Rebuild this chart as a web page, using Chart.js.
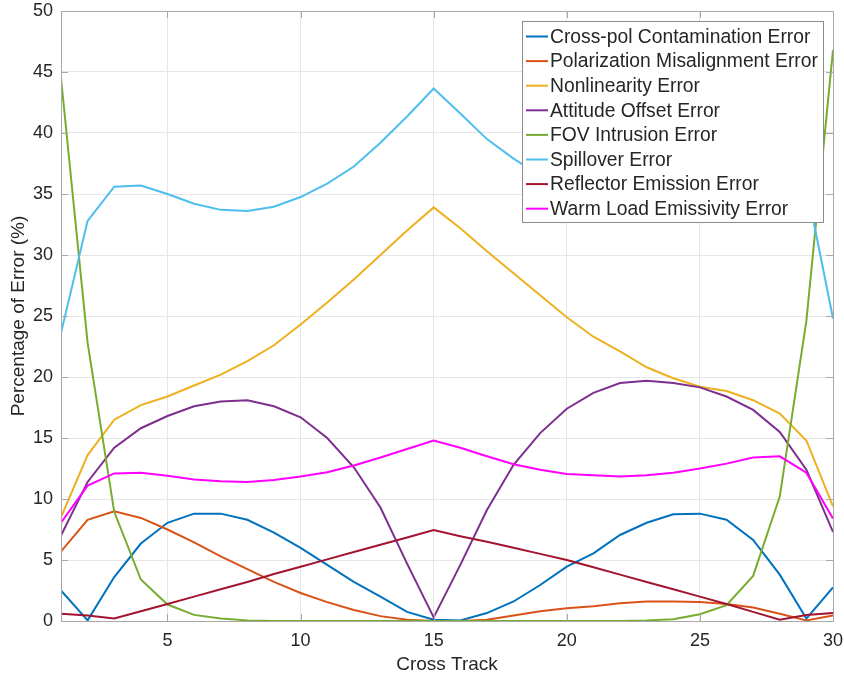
<!DOCTYPE html>
<html>
<head>
<meta charset="utf-8">
<script src="https://cdn.jsdelivr.net/npm/chart.js@4.4.1/dist/chart.umd.min.js"></script>
<style>
html,body{margin:0;padding:0;background:#fff;}
canvas{display:block;}
</style>
</head>
<body>
<canvas id="c" width="844" height="675"></canvas>
<script>
const crossTrack = [1,2,3,4,5,6,7,8,9,10,11,12,13,14,15,16,17,18,19,20,21,22,23,24,25,26,27,28,29,30];
const xTickValues = [5,10,15,20,25,30];
const yTickValues = [0,5,10,15,20,25,30,35,40,45,50];

const seriesNames = [
  'Cross-pol Contamination Error',
  'Polarization Misalignment Error',
  'Nonlinearity Error',
  'Attitude Offset Error',
  'FOV Intrusion Error',
  'Spillover Error',
  'Reflector Emission Error',
  'Warm Load Emissivity Error'
];
const seriesColors = ['#0072BD','#D95319','#EDB120','#7E2F8E','#77AC30','#4DBEEE','#A2142F','#FF00FF'];

const crossPol   = [2.5,0.05,3.6,6.35,8.05,8.8,8.8,8.3,7.25,6.0,4.6,3.2,2.0,0.75,0.1,0.05,0.65,1.6,2.95,4.45,5.55,7.05,8.05,8.75,8.8,8.3,6.65,3.8,0.2,2.75];
const polMis     = [5.7,8.3,9.0,8.45,7.5,6.45,5.3,4.25,3.2,2.3,1.55,0.9,0.4,0.1,0.0,0.0,0.1,0.45,0.8,1.05,1.2,1.45,1.6,1.6,1.55,1.4,1.1,0.6,0.05,0.45];
const nonlin     = [8.5,13.6,16.5,17.7,18.4,19.3,20.2,21.3,22.6,24.3,26.1,28.0,30.0,32.0,33.9,32.2,30.3,28.5,26.7,24.9,23.3,22.1,20.8,19.9,19.2,18.85,18.1,17.0,14.8,9.4];
const attitude   = [7.0,11.4,14.2,15.8,16.8,17.6,18.0,18.1,17.6,16.7,15.0,12.6,9.3,4.7,0.3,4.6,9.1,12.8,15.4,17.4,18.7,19.5,19.7,19.5,19.15,18.4,17.3,15.5,12.4,7.3];
const fovIntr    = [44.5,22.8,8.95,3.4,1.35,0.5,0.2,0.05,0,0,0,0,0,0,0,0,0,0,0,0,0,0,0.05,0.15,0.55,1.3,3.7,10.2,24.6,46.8];
const spillover  = [23.6,32.8,35.6,35.7,35.0,34.2,33.7,33.6,33.95,34.75,35.85,37.25,39.2,41.35,43.65,41.6,39.5,37.9,36.5,35.7,35.2,34.9,35.05,35.5,36.4,37.9,39.55,39.75,35.7,24.8];
const reflector  = [0.6,0.45,0.2,0.8,1.4,2.0,2.6,3.2,3.85,4.45,5.05,5.65,6.25,6.85,7.45,6.95,6.5,6.0,5.5,5.0,4.4,3.8,3.2,2.6,2.0,1.4,0.75,0.1,0.5,0.65];
const warmLoad   = [8.05,11.1,12.1,12.15,11.9,11.6,11.45,11.4,11.55,11.85,12.2,12.75,13.4,14.1,14.8,14.2,13.5,12.85,12.4,12.05,11.95,11.85,11.95,12.15,12.5,12.9,13.4,13.5,12.15,8.4];

const seriesValues = [crossPol, polMis, nonlin, attitude, fovIntr, spillover, reflector, warmLoad];

const FONT = '"Liberation Sans", Arial, Helvetica, sans-serif';
const AXIS_COLOR = '#a8a8a8';
const TEXT_COLOR = '#262626';

const datasets = seriesValues.map((vals, i) => ({
  label: seriesNames[i],
  data: vals.map((v, k) => ({x: crossTrack[k], y: v})),
  borderColor: seriesColors[i],
  backgroundColor: seriesColors[i],
  borderWidth: 2,
  pointRadius: 0,
  tension: 0,
  fill: false,
  order: seriesValues.length - i
}));

const decor = {
  id: 'decor',
  afterDraw(chart) {
    const ctx = chart.ctx;
    const a = chart.chartArea;
    const xs = chart.scales.x, ys = chart.scales.y;
    ctx.save();
    ctx.strokeStyle = AXIS_COLOR;
    ctx.lineWidth = 1;
    ctx.strokeRect(Math.round(a.left) + 0.5, Math.round(a.top) + 0.5, Math.round(a.right - a.left), Math.round(a.bottom - a.top));
    const tl = 7;
    ctx.beginPath();
    xTickValues.forEach(v => {
      const px = Math.round(xs.getPixelForValue(v)) + 0.5;
      ctx.moveTo(px, a.bottom); ctx.lineTo(px, a.bottom - tl);
      ctx.moveTo(px, a.top); ctx.lineTo(px, a.top + tl);
    });
    yTickValues.forEach(v => {
      const py = Math.round(ys.getPixelForValue(v)) + 0.5;
      ctx.moveTo(a.left, py); ctx.lineTo(a.left + tl, py);
      ctx.moveTo(a.right, py); ctx.lineTo(a.right - tl, py);
    });
    ctx.stroke();
    ctx.fillStyle = TEXT_COLOR;
    ctx.font = '19px ' + FONT;
    ctx.textAlign = 'center';
    ctx.textBaseline = 'middle';
    ctx.fillText('Cross Track', (a.left + a.right) / 2, 665);
    ctx.save();
    ctx.translate(19, (a.top + a.bottom) / 2);
    ctx.rotate(-Math.PI / 2);
    ctx.fillText('Percentage of Error (%)', 0, 0);
    ctx.restore();
    const lx = 522, ly = 21, lw = 301, lh = 201;
    ctx.fillStyle = '#ffffff';
    ctx.fillRect(lx, ly, lw, lh);
    ctx.strokeStyle = '#8c8c8c';
    ctx.lineWidth = 1;
    ctx.strokeRect(lx + 0.5, ly + 0.5, lw, lh);
    ctx.textAlign = 'left';
    ctx.font = '19.3px ' + FONT;
    chart.data.datasets.forEach((ds, i) => {
      const cy = 36.5 + i * 24.6;
      ctx.strokeStyle = ds.borderColor;
      ctx.lineWidth = 2;
      ctx.beginPath();
      ctx.moveTo(526, cy); ctx.lineTo(548, cy);
      ctx.stroke();
      ctx.fillStyle = TEXT_COLOR;
      ctx.fillText(ds.label, 550, cy + 1);
    });
    ctx.restore();
  }
};

new Chart(document.getElementById('c'), {
  type: 'line',
  data: { datasets },
  options: {
    responsive: false,
    animation: false,
    devicePixelRatio: 1,
    layout: { padding: { left: 0, top: 11, right: 11, bottom: 0 } },
    plugins: { legend: { display: false }, tooltip: { enabled: false } },
    scales: {
      x: {
        type: 'linear',
        min: 1, max: 30,
        afterBuildTicks: s => { s.ticks = xTickValues.map(v => ({value: v})); },
        afterFit: s => { s.height = 54; s.paddingLeft = 0; s.paddingRight = 0; },
        grid: { color: '#e6e6e6', drawTicks: false, lineWidth: 1 },
        border: { display: true, color: AXIS_COLOR },
        ticks: { color: TEXT_COLOR, font: { family: FONT, size: 18 }, padding: 9, maxRotation: 0 }
      },
      y: {
        type: 'linear',
        min: 0, max: 50,
        afterBuildTicks: s => { s.ticks = yTickValues.map(v => ({value: v})); },
        afterFit: s => { s.width = 61; s.paddingTop = 0; s.paddingBottom = 0; },
        grid: { color: '#e6e6e6', drawTicks: false, lineWidth: 1 },
        border: { display: true, color: AXIS_COLOR },
        ticks: { color: TEXT_COLOR, font: { family: FONT, size: 18 }, padding: 8 }
      }
    }
  },
  plugins: [decor]
});
</script>
</body>
</html>
